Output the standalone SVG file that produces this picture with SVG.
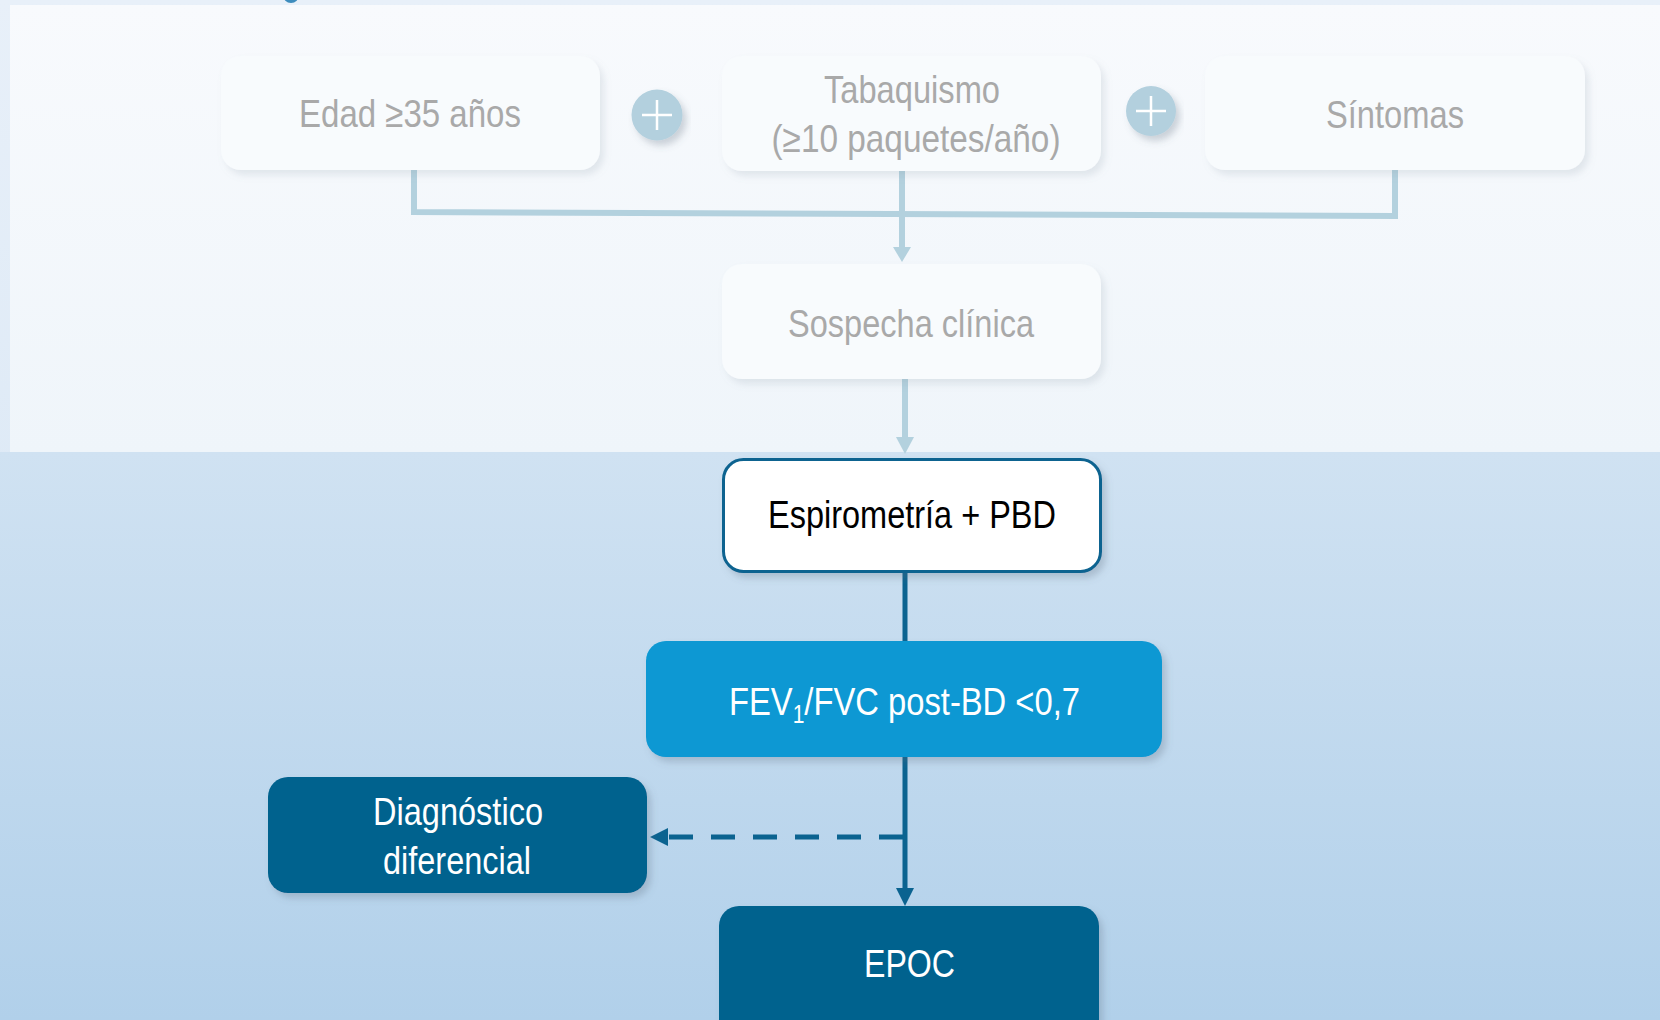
<svg xmlns="http://www.w3.org/2000/svg" width="1660" height="1020" viewBox="0 0 1660 1020">
  <defs>
    <linearGradient id="bgLower" x1="0" y1="0" x2="0" y2="1">
      <stop offset="0" stop-color="#d0e2f2"/>
      <stop offset="1" stop-color="#b1d0ea"/>
    </linearGradient>
    <linearGradient id="bgPanel" x1="0" y1="0" x2="0" y2="1">
      <stop offset="0" stop-color="#f8fafd"/>
      <stop offset="1" stop-color="#eff5fa"/>
    </linearGradient>
    <linearGradient id="bgOuter" x1="0" y1="0" x2="0" y2="1">
      <stop offset="0" stop-color="#e8f0f9"/>
      <stop offset="1" stop-color="#d3e3f3"/>
    </linearGradient>
    <filter id="shadow" x="-10%" y="-20%" width="125%" height="150%">
      <feDropShadow dx="4" dy="5" stdDeviation="3.5" flood-color="#5a6a7a" flood-opacity="0.28"/>
    </filter>
    <filter id="shadowSoft" x="-10%" y="-20%" width="125%" height="150%">
      <feDropShadow dx="4" dy="5" stdDeviation="3.5" flood-color="#8090a0" flood-opacity="0.18"/>
    </filter>
  </defs>
  <style>
    text { font-family: "Liberation Sans Narrow", "Arial Narrow", "Liberation Sans", Arial, sans-serif; font-size: 39px; text-anchor: middle; }
    .faded rect { fill: #f8fbfd; }
    .faded text { fill: #a9a9a9; }
    .plus circle { fill: #b3d0de; }
    .plus path { stroke: #ffffff; stroke-width: 2.5; fill: none; }
    .light { stroke: #b3d1de; stroke-width: 6; fill: none; }
    .lightHead { fill: #b3d1de; }
    .dark { stroke: #0b6390; stroke-width: 5; fill: none; }
    .darkHead { fill: #0b6390; }
    .dash { stroke-dasharray: 24 18; }
  </style>

  <!-- backgrounds -->
  <rect x="0" y="0" width="1660" height="1020" fill="url(#bgOuter)"/>
  <rect x="0" y="452" width="1660" height="568" fill="url(#bgLower)"/>
  <rect x="10" y="5" width="1650" height="447" fill="url(#bgPanel)"/>
  <circle cx="291" cy="-5" r="8" fill="#3d8cbd"/>

  <!-- connectors -->
  <g id="connectors">
    <path class="light" d="M414,170 V212 L1395,216 V170"/>
    <path class="light" d="M902,171 V250"/>
    <polygon class="lightHead" points="893,247 911,247 902,262"/>
    <path class="light" d="M905,379 V440"/>
    <polygon class="lightHead" points="896,437 914,437 905,454"/>
    <path class="dark" d="M905,572 V641"/>
    <path class="dark" d="M905,757 V892"/>
    <polygon class="darkHead" points="896,888 914,888 905,906"/>
    <path class="dark dash" d="M903,837 H666"/>
    <polygon class="darkHead" points="668,828 668,846 650,837"/>
  </g>

  <!-- risk factors -->
  <g id="node-edad" class="faded">
    <rect x="221" y="56" width="379" height="114" rx="20" filter="url(#shadowSoft)"/>
    <text x="410" y="127" textLength="222" lengthAdjust="spacingAndGlyphs">Edad ≥35 años</text>
  </g>
  <g id="plus-1" class="plus" filter="url(#shadow)">
    <circle cx="657" cy="115" r="25.5"/>
    <path d="M642,115 H672 M657,100 V130"/>
  </g>
  <g id="node-tabaquismo" class="faded">
    <rect x="722" y="56" width="379" height="115" rx="20" filter="url(#shadowSoft)"/>
    <text x="912" y="103" textLength="176" lengthAdjust="spacingAndGlyphs">Tabaquismo</text>
    <text x="916" y="152" textLength="289" lengthAdjust="spacingAndGlyphs">(≥10 paquetes/año)</text>
  </g>
  <g id="plus-2" class="plus" filter="url(#shadow)">
    <circle cx="1151" cy="111" r="25"/>
    <path d="M1136,111 H1166 M1151,96 V126"/>
  </g>
  <g id="node-sintomas" class="faded">
    <rect x="1205" y="56" width="380" height="114" rx="20" filter="url(#shadowSoft)"/>
    <text x="1395" y="128" textLength="138" lengthAdjust="spacingAndGlyphs">Síntomas</text>
  </g>

  <g id="node-sospecha" class="faded">
    <rect x="722" y="264" width="379" height="115" rx="20" filter="url(#shadowSoft)"/>
    <text x="911" y="337" textLength="246" lengthAdjust="spacingAndGlyphs">Sospecha clínica</text>
  </g>

  <!-- diagnostic path -->
  <g id="node-espirometria">
    <rect x="723.5" y="459.5" width="377" height="112" rx="20" fill="#ffffff" stroke="#0b6390" stroke-width="3" filter="url(#shadow)"/>
    <text x="912" y="528" fill="#000000" textLength="288" lengthAdjust="spacingAndGlyphs">Espirometría + PBD</text>
  </g>

  <g id="node-fev">
    <rect x="646" y="641" width="516" height="116" rx="20" fill="#0898d3" filter="url(#shadow)"/>
    <text x="729" y="715" fill="#ffffff" style="text-anchor:start" textLength="351" lengthAdjust="spacingAndGlyphs">FEV<tspan dy="8" font-size="25">1</tspan><tspan dy="-8">/FVC post-BD &lt;0,7</tspan></text>
  </g>

  <g id="node-diferencial">
    <rect x="268" y="777" width="379" height="116" rx="20" fill="#00628e" filter="url(#shadow)"/>
    <text x="458" y="825" fill="#ffffff" textLength="170" lengthAdjust="spacingAndGlyphs">Diagnóstico</text>
    <text x="457" y="874" fill="#ffffff" textLength="148" lengthAdjust="spacingAndGlyphs">diferencial</text>
  </g>

  <g id="node-epoc">
    <rect x="719" y="906" width="380" height="140" rx="20" fill="#00628e" filter="url(#shadow)"/>
    <text x="909.5" y="977" fill="#ffffff" textLength="91" lengthAdjust="spacingAndGlyphs">EPOC</text>
  </g>
</svg>
